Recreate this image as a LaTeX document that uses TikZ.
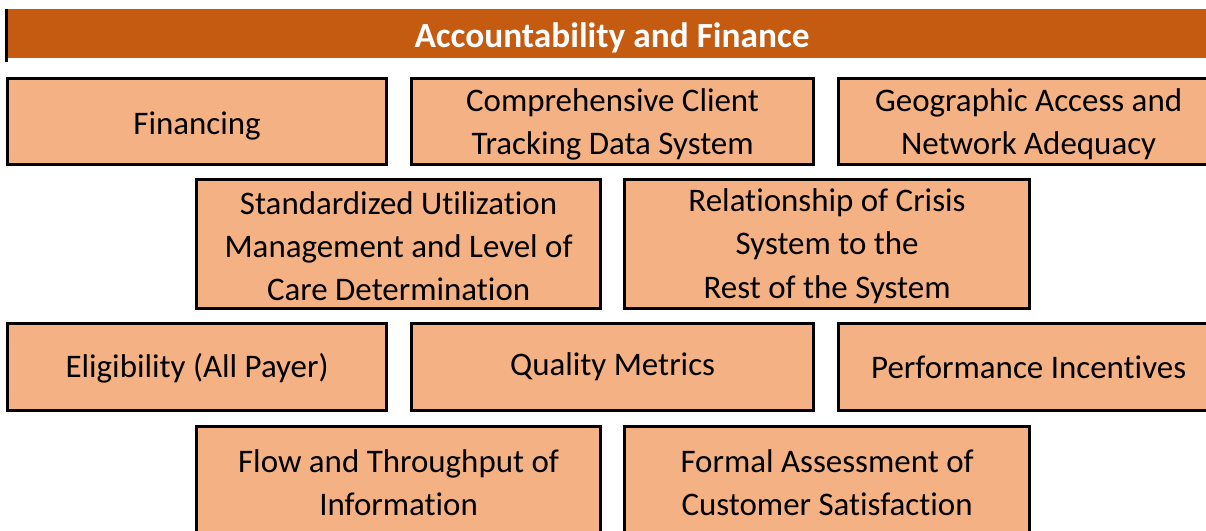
\documentclass[tikz,border=0pt]{standalone}
\usepackage{fontspec}
\setmainfont{Carlito}[RawFeature={-liga;-clig;-dlig}]
\definecolor{hdr}{HTML}{C55A11}
\definecolor{boxfill}{HTML}{F4B183}
\begin{document}
\begin{tikzpicture}[x=0.75pt,y=-0.75pt,
  cell/.style={draw=black,line width=2.4pt,fill=boxfill,inner sep=0pt,anchor=north west},
  celltxt/.style={inner sep=0pt,font=\fontsize{24.7}{32.5}\selectfont,align=center},
  headtxt/.style={font=\fontsize{26.5}{30}\selectfont\bfseries,text=white}]
\useasboundingbox (0,0) rectangle (1206,531);
\clip (0,0) rectangle (1206,531);
\fill[white] (0,0) rectangle (1206,531);
% header
\fill[hdr] (7,9) rectangle (1220,58);
\draw[line width=2.4pt] (6.5,9) -- (6.5,62);
\node[headtxt] (head) at (612,38) {Accountability and Finance};
% row 1
\node[cell,minimum width=379*0.75pt,minimum height=86*0.75pt] (fin) at (6,77) {};
\node[cell,minimum width=402*0.75pt,minimum height=86*0.75pt] (cct) at (410,77) {};
\node[cell,minimum width=380*0.75pt,minimum height=86*0.75pt] (geo) at (837,77) {};
\node[celltxt,yshift=-3pt] (fint) at (fin.center) {Financing};
\node[celltxt,yshift=-2.2pt] (cctt) at (cct.center) {Comprehensive Client\\Tracking Data System};
\node[celltxt,yshift=-2.2pt] (geot) at (geo.center) {Geographic Access and\\Network Adequacy};
% row 2
\node[cell,minimum width=404*0.75pt,minimum height=129*0.75pt] (sum) at (195,178) {};
\node[cell,minimum width=405*0.75pt,minimum height=129*0.75pt] (rcs) at (623,178) {};
\node[celltxt,yshift=-1.5pt] (sumt) at (sum.center) {Standardized Utilization\\Management and Level of\\Care Determination};
\node[celltxt,yshift=-1.5pt] (rcst) at (rcs.center) {Relationship of Crisis\\System to the\\Rest of the System};
% row 3
\node[cell,minimum width=379*0.75pt,minimum height=87*0.75pt] (eli) at (6,322) {};
\node[cell,minimum width=402*0.75pt,minimum height=87*0.75pt] (qm) at (410,322) {};
\node[cell,minimum width=380*0.75pt,minimum height=87*0.75pt] (pi) at (837,322) {};
\node[celltxt,yshift=-1pt] (elit) at (eli.center) {Eligibility (All Payer)};
\node[celltxt] (qmt) at (qm.center) {Quality Metrics};
\node[celltxt] (pit) at (pi.center) {Performance Incentives};
% row 4
\node[cell,minimum width=404*0.75pt,minimum height=112*0.75pt] (flow) at (195,425) {};
\node[cell,minimum width=405*0.75pt,minimum height=112*0.75pt] (fac) at (623,425) {};
\node[celltxt] (flowt) at (flow.center) {Flow and Throughput of\\Information};
\node[celltxt] (fact) at (fac.center) {Formal Assessment of\\Customer Satisfaction};
\end{tikzpicture}
\end{document}
